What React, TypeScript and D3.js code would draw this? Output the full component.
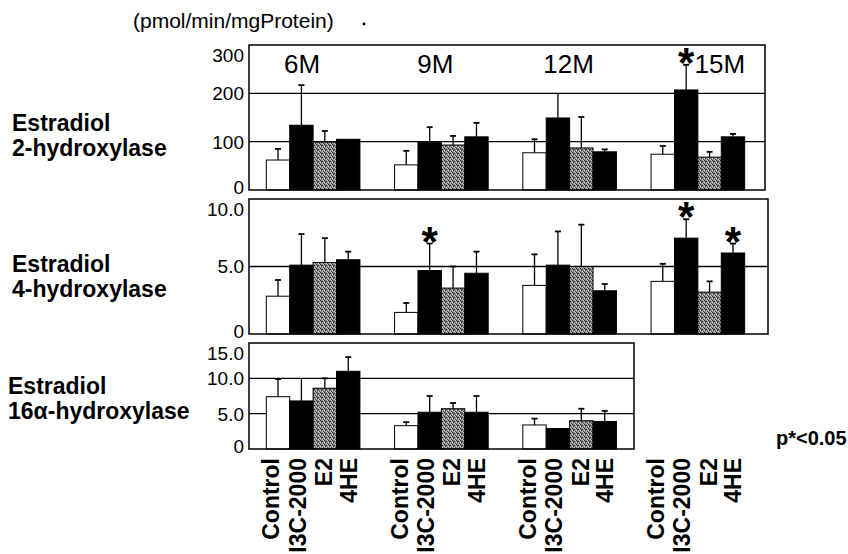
import React, { useEffect, useRef } from 'react';
import * as d3 from 'd3';

const groups = ['6M', '9M', '12M', '15M'];
const treatments = ['Control', 'I3C-2000', 'E2', '4HE'];

// Estradiol 2-hydroxylase (pmol/min/mgProtein)
const e2hMean = [[62, 134, 99, 105], [52, 99, 93, 110], [77, 149, 87, 79], [74, 207, 68, 110]];
const e2hErr = [[23, 83, 23, 0], [29, 31, 19, 29], [28, 51, 64, 5], [17, 52, 11, 6]];
const e2hTicks = [0, 100, 200, 300];
const e2hTickLabels = ['0', '100', '200', '300'];
const e2hStars = [[3, 1]];
const e2hNoCap = [[2, 1]];

// Estradiol 4-hydroxylase
const e4hMean = [[2.8, 5.1, 5.3, 5.5], [1.6, 4.7, 3.4, 4.5], [3.6, 5.1, 5.0, 3.2], [3.9, 7.1, 3.1, 6.0]];
const e4hErr = [[1.2, 2.3, 1.8, 0.6], [0.7, 2.0, 1.6, 1.6], [2.3, 2.5, 3.1, 0.5], [1.3, 1.4, 0.8, 0.7]];
const e4hTicks = [0, 5, 10];
const e4hTickLabels = ['0', '5.0', '10.0'];
const e4hStars = [[1, 1], [3, 1], [3, 3]];

// Estradiol 16a-hydroxylase (no 15M data)
const e16Mean = [[7.4, 6.8, 8.6, 11.0], [3.3, 5.2, 5.7, 5.2], [3.4, 2.9, 4.0, 3.9]];
const e16Err = [[2.5, 3.1, 1.4, 2.0], [0.5, 2.3, 0.8, 2.3], [0.9, 0, 1.7, 1.5]];
const e16Ticks = [0, 5, 10, 15];
const e16TickLabels = ['0', '5.0', '10.0', '15.0'];
const e16NoCap = [[0, 1]];

const FONT = '"Liberation Sans", Arial, Helvetica, sans-serif';

export default function App() {
  const ref = useRef<SVGSVGElement | null>(null);

  useEffect(() => {
    const svg = d3.select(ref.current);
    svg.selectAll('*').remove();

    // grainy grey fill for the E2 bars
    const defs = svg.append('defs');
    const pat = defs.append('pattern')
      .attr('id', 'stipple')
      .attr('width', 4).attr('height', 4)
      .attr('patternUnits', 'userSpaceOnUse');
    pat.append('rect').attr('width', 4).attr('height', 4).attr('fill', '#8c8c8c');
    const dots: [number, number, string][] = [
      [0, 0, '#222'], [2, 1, '#333'], [1, 2, '#2a2a2a'], [3, 3, '#444'],
      [0, 2, '#e6e6e6'], [2, 3, '#d0d0d0'], [3, 0, '#c8c8c8'], [1, 1, '#555'],
    ];
    dots.forEach(([dx, dy, c]) => {
      pat.append('rect').attr('x', dx).attr('y', dy).attr('width', 1).attr('height', 1).attr('fill', c);
    });

    const x0 = d3.scaleBand().domain(groups).range([249, 762]).paddingInner(0.27).paddingOuter(0.135);
    const x1 = d3.scaleBand().domain(treatments).range([0, x0.bandwidth()]);
    const fills = ['#fff', '#000', 'url(#stipple)', '#000'];

    const panels = [
      { mean: e2hMean, err: e2hErr, ticks: e2hTicks, labels: e2hTickLabels, stars: e2hStars, noCap: e2hNoCap,
        max: 300, top: 45, bottom: 190, right: 765, grid: [100, 200] },
      { mean: e4hMean, err: e4hErr, ticks: e4hTicks, labels: e4hTickLabels, stars: e4hStars, noCap: [],
        max: 10, top: 199, bottom: 334, right: 768, grid: [5] },
      { mean: e16Mean, err: e16Err, ticks: e16Ticks, labels: e16TickLabels, stars: [], noCap: e16NoCap,
        max: 15, top: 343, bottom: 449, right: 634, grid: [5, 10] },
    ];

    panels.forEach(p => {
      const y = d3.scaleLinear().domain([0, p.max]).range([p.bottom, p.top]);
      const g = svg.append('g');

      g.selectAll('line.grid').data(p.grid).enter().append('line')
        .attr('x1', 249).attr('x2', p.right)
        .attr('y1', d => y(d)).attr('y2', d => y(d))
        .attr('stroke', '#000').attr('stroke-width', 1.3);

      // top label hangs from the frame, the zero sits on the floor
      g.selectAll('text.tick').data(p.ticks).enter().append('text')
        .attr('x', 244).attr('y', d => y(d))
        .attr('dy', d => (d === p.max ? '0.9em' : d === 0 ? '0.2em' : '0.36em'))
        .attr('text-anchor', 'end')
        .attr('font-family', FONT).attr('font-size', 19)
        .text((d, i) => p.labels[i]);

      p.mean.forEach((row, gi) => {
        const gx = x0(groups[gi])!;
        row.forEach((v, ti) => {
          const bx = gx + x1(treatments[ti])!;
          const w = x1.bandwidth();
          const cx = bx + w / 2;
          const e = p.err[gi][ti];
          const noCap = p.noCap.some(c => c[0] === gi && c[1] === ti);
          if (e > 0) {
            g.append('line')
              .attr('x1', cx).attr('x2', cx)
              .attr('y1', y(v)).attr('y2', y(v + e))
              .attr('stroke', '#000').attr('stroke-width', 1.3);
            if (!noCap) {
              g.append('line')
                .attr('x1', cx - 3).attr('x2', cx + 3)
                .attr('y1', y(v + e)).attr('y2', y(v + e))
                .attr('stroke', '#000').attr('stroke-width', 1.8);
            }
          }
          g.append('rect')
            .attr('x', bx).attr('y', y(v))
            .attr('width', w).attr('height', y(0) - y(v))
            .attr('fill', fills[ti])
            .attr('stroke', '#000').attr('stroke-width', 1);
        });
      });

      p.stars.forEach(s => {
        const [gi, ti] = s;
        const cx = x0(groups[gi])! + x1(treatments[ti])! + x1.bandwidth() / 2;
        const topV = p.mean[gi][ti] + p.err[gi][ti];
        g.append('text')
          .attr('x', cx).attr('y', y(topV) + 12)
          .attr('text-anchor', 'middle')
          .attr('font-family', FONT).attr('font-weight', 'bold').attr('font-size', 42)
          .text('*');
      });

      g.append('rect')
        .attr('x', 249).attr('y', p.top)
        .attr('width', p.right - 249).attr('height', p.bottom - p.top)
        .attr('fill', 'none').attr('stroke', '#000').attr('stroke-width', 1.5);
    });

    // month labels in the top panel
    const monthShift = [-11, -6, -1, 22];
    svg.selectAll('text.month').data(groups).enter().append('text')
      .attr('x', (d, i) => x0(d)! + x0.bandwidth() / 2 + monthShift[i])
      .attr('y', 73)
      .attr('text-anchor', 'middle')
      .attr('font-family', FONT).attr('font-size', 26)
      .text(d => d);

    // rotated treatment labels under each group
    const labelShift = [-7, -4, -1, 0];
    groups.forEach(gr => {
      treatments.forEach((t, ti) => {
        const cx = x0(gr)! + x1(t)! + x1.bandwidth() / 2 + labelShift[ti];
        svg.append('text')
          .attr('transform', `translate(${cx},458) rotate(-90)`)
          .attr('dy', '0.36em')
          .attr('text-anchor', 'end')
          .attr('font-family', FONT).attr('font-weight', 'bold').attr('font-size', 23)
          .text(t);
      });
    });

    // unit and row titles
    svg.append('text').attr('x', 133).attr('y', 28)
      .attr('font-family', FONT).attr('font-size', 21)
      .text('(pmol/min/mgProtein)');
    svg.append('circle').attr('cx', 364).attr('cy', 24).attr('r', 1.4).attr('fill', '#000');

    const rowTitles = [
      { a: 'Estradiol', b: '2-hydroxylase', x: 12, y: 131 },
      { a: 'Estradiol', b: '4-hydroxylase', x: 12, y: 272 },
      { a: 'Estradiol', b: '16\u03b1-hydroxylase', x: 8, y: 394 },
    ];
    rowTitles.forEach(r => {
      const t = svg.append('text')
        .attr('font-family', FONT).attr('font-weight', 'bold').attr('font-size', 23);
      t.append('tspan').attr('x', r.x).attr('y', r.y).text(r.a);
      t.append('tspan').attr('x', r.x).attr('y', r.y + 25).text(r.b);
    });

    svg.append('text').attr('x', 776).attr('y', 445)
      .attr('font-family', FONT).attr('font-weight', 'bold').attr('font-size', 20)
      .text('p*<0.05');
  }, []);

  return (
    <svg ref={ref} width={848} height={554}
      style={{ position: 'absolute', left: 0, top: 0, background: '#fff' }} />
  );
}
